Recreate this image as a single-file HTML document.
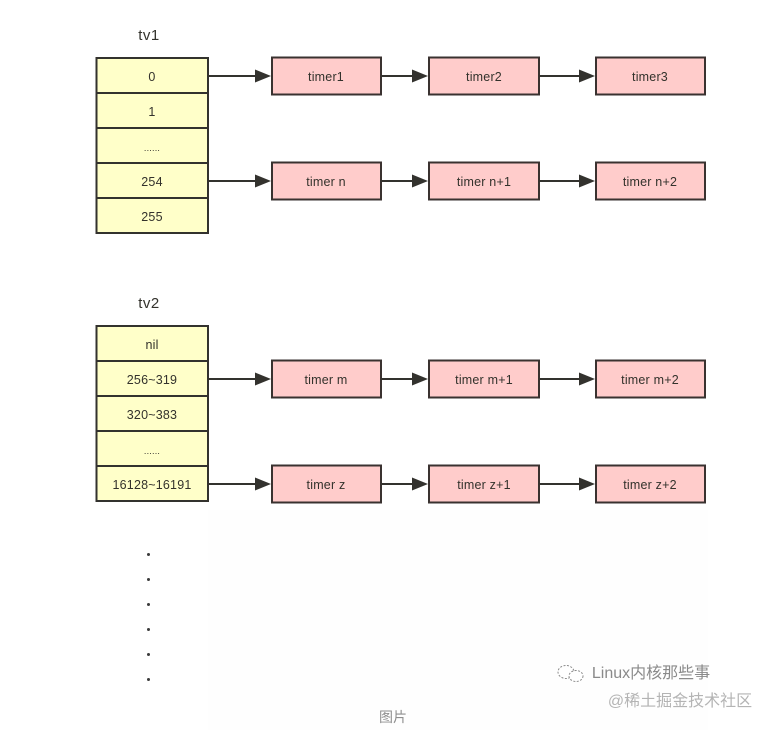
<!DOCTYPE html>
<html><head><meta charset="utf-8"><style>
html,body{margin:0;padding:0;background:#fff;width:774px;height:730px;overflow:hidden}
svg{display:block}
text{font-family:"Liberation Sans","Noto Sans CJK SC",sans-serif;fill:#33322c;text-anchor:middle}
</style></head><body>
<svg width="774" height="730" viewBox="0 0 774 730" xmlns="http://www.w3.org/2000/svg">
<defs>
<g id="a"><path d="M0 0H48" stroke="#33322e" stroke-width="2" fill="none"/><path d="M46-6.500L62 0L46 6.500Z" fill="#33322e"/></g>
<g id="b"><path d="M0 0H32" stroke="#33322e" stroke-width="2" fill="none"/><path d="M31-6.500L47 0L31 6.500Z" fill="#33322e"/></g>
<g id="c"><path d="M0 0H41" stroke="#33322e" stroke-width="2" fill="none"/><path d="M40-6.500L56 0L40 6.500Z" fill="#33322e"/></g>
</defs>
<rect width="774" height="730" fill="#fff"/>
<rect x="208" y="510" width="500" height="220" fill="#fefefe"/>

<g fill="#ffffc9" stroke="#33322e" stroke-width="2">
<rect x="96.500" y="58" width="111.500" height="175"/>
<rect x="96.500" y="326" width="111.500" height="175"/>
</g>
<path d="M96 93H208M96 128H208M96 163H208M96 198H208M96 361H208M96 396H208M96 431H208M96 466H208" stroke="#33322e" stroke-width="2" fill="none"/>

<g fill="#ffcccb" stroke="#3a3230" stroke-width="2">
<rect x="272" y="57.500" width="109" height="37"/><rect x="429" y="57.500" width="110" height="37"/><rect x="596" y="57.500" width="109" height="37"/>
<rect x="272" y="162.500" width="109" height="37"/><rect x="429" y="162.500" width="110" height="37"/><rect x="596" y="162.500" width="109" height="37"/>
<rect x="272" y="360.500" width="109" height="37"/><rect x="429" y="360.500" width="110" height="37"/><rect x="596" y="360.500" width="109" height="37"/>
<rect x="272" y="465.500" width="109" height="37"/><rect x="429" y="465.500" width="110" height="37"/><rect x="596" y="465.500" width="109" height="37"/>
</g>

<use href="#a" x="209" y="76"/><use href="#b" x="381" y="76"/><use href="#c" x="539" y="76"/>
<use href="#a" x="209" y="181"/><use href="#b" x="381" y="181"/><use href="#c" x="539" y="181"/>
<use href="#a" x="209" y="379"/><use href="#b" x="381" y="379"/><use href="#c" x="539" y="379"/>
<use href="#a" x="209" y="484"/><use href="#b" x="381" y="484"/><use href="#c" x="539" y="484"/>

<g font-size="15">
<text x="149" y="40" letter-spacing="0.5">tv1</text>
<text x="149" y="308" letter-spacing="0.5">tv2</text>
</g>
<g font-size="12.500" letter-spacing="0.2">
<text x="152" y="81">0</text>
<text x="152" y="116">1</text>
<text x="152" y="151" font-size="9">......</text>
<text x="152" y="186">254</text>
<text x="152" y="221">255</text>
<text x="152" y="349">nil</text>
<text x="152" y="384">256~319</text>
<text x="152" y="419">320~383</text>
<text x="152" y="454" font-size="9">......</text>
<text x="152" y="489">16128~16191</text>
<text x="326" y="81">timer1</text>
<text x="484" y="81">timer2</text>
<text x="650" y="81">timer3</text>
<text x="326" y="186">timer n</text>
<text x="484" y="186">timer n+1</text>
<text x="650" y="186">timer n+2</text>
<text x="326" y="384">timer m</text>
<text x="484" y="384">timer m+1</text>
<text x="650" y="384">timer m+2</text>
<text x="326" y="489">timer z</text>
<text x="484" y="489">timer z+1</text>
<text x="650" y="489">timer z+2</text>
</g>

<g fill="#3a3a3a">
<circle cx="148.500" cy="554.500" r="1.500"/><circle cx="148.500" cy="579.500" r="1.500"/><circle cx="148.500" cy="604.500" r="1.500"/><circle cx="148.500" cy="629.500" r="1.500"/><circle cx="148.500" cy="654.500" r="1.500"/><circle cx="148.500" cy="679.500" r="1.500"/>
</g>

<g fill="#fff" stroke="#8a8a8a" stroke-width="1" stroke-dasharray="2 1.500">
<ellipse cx="566" cy="672" rx="8" ry="6.500"/>
<ellipse cx="576" cy="676" rx="7" ry="5.500"/>
</g>
<text x="651" y="678" font-size="16" style="fill:#8a8a8a">Linux内核那些事</text>
<text x="680" y="706" font-size="16" style="fill:#b4b4b4">@稀土掘金技术社区</text>
<text x="393" y="722" font-size="14" style="fill:#8f8f8f">图片</text>
</svg>
</body></html>
